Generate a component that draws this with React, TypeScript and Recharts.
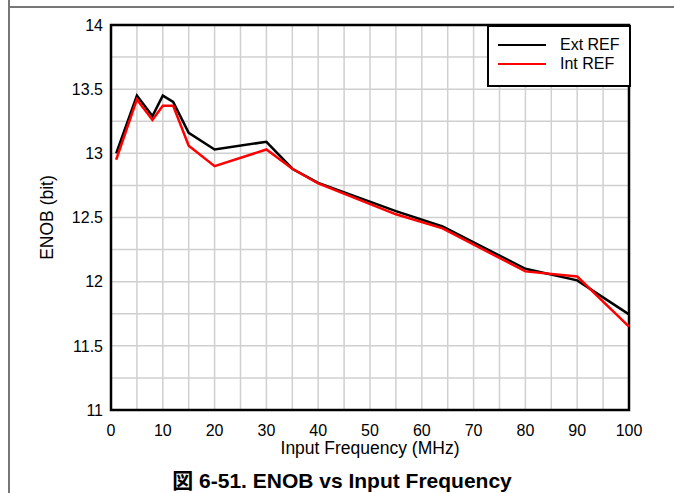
import { LineChart, Line, XAxis, YAxis, CartesianGrid, ReferenceArea } from "recharts"

const freqs = [1, 5, 8, 10, 12, 15, 20, 30, 35, 40, 55, 64, 80, 90, 100]
const extRef = [13.0, 13.45, 13.29, 13.45, 13.4, 13.16, 13.03, 13.09, 12.88, 12.77, 12.55, 12.43, 12.1, 12.01, 11.745]
const intRef = [12.95, 13.42, 13.26, 13.37, 13.37, 13.06, 12.9, 13.03, 12.88, 12.765, 12.525, 12.415, 12.08, 12.04, 11.65]
const xTicks = [0, 5, 10, 15, 20, 25, 30, 35, 40, 45, 50, 55, 60, 65, 70, 75, 80, 85, 90, 95, 100]
const yTicks = [11, 11.25, 11.5, 11.75, 12, 12.25, 12.5, 12.75, 13, 13.25, 13.5, 13.75, 14]

const data = freqs.map((f, i) => ({ f, ext: extRef[i], int: intRef[i] }))

const font = "'Liberation Sans', Arial, sans-serif"

export default function App() {
  return (
    <div style={{ position: "absolute", left: 0, top: 0, width: 674, height: 493, background: "#fff", fontFamily: font, overflow: "hidden" }}>
      {/* page frame bits */}
      <div style={{ position: "absolute", left: 8, top: 0, width: 2, height: 493, background: "#777" }} />
      <div style={{ position: "absolute", left: 8, top: 6, width: 666, height: 2, background: "#777" }} />
      <LineChart width={674} height={493} data={data} margin={{ top: 25, right: 45, bottom: 53, left: 40 }}>
        <CartesianGrid stroke="#d0d0d0" strokeWidth={1.5} />
        <XAxis
          dataKey="f"
          type="number"
          domain={[0, 100]}
          ticks={xTicks}
          interval={0}
          tickFormatter={(v) => (v % 10 === 0 ? String(v) : "")}
          tickLine={false}
          axisLine={false}
          height={30}
          tickMargin={9}
          tick={{ fill: "#000", fontSize: 16, fontFamily: font }}
          label={{ value: "Input Frequency (MHz)", position: "insideBottom", offset: -14, fill: "#000", fontSize: 17.5, fontFamily: font }}
        />
        <YAxis
          type="number"
          domain={[11, 14]}
          ticks={yTicks}
          interval={0}
          tickFormatter={(v) => (v * 2 === Math.round(v * 2) ? String(v) : "")}
          tickLine={false}
          axisLine={false}
          width={71}
          tick={{ fill: "#000", fontSize: 16, fontFamily: font }}
          label={{ value: "ENOB (bit)", angle: -90, position: "insideLeft", offset: 7, fill: "#000", fontSize: 17.5, fontFamily: font, style: { textAnchor: "middle" } }}
        />
        <ReferenceArea x1={0} x2={100} y1={11} y2={14} fill="none" stroke="#000" strokeWidth={2.5} ifOverflow="visible" />
        <Line type="linear" dataKey="ext" stroke="#000" strokeWidth={2.5} dot={false} isAnimationActive={false} />
        <Line type="linear" dataKey="int" stroke="#ff0000" strokeWidth={2.5} dot={false} isAnimationActive={false} />
      </LineChart>
      <div style={{ position: "absolute", left: 487, top: 25, width: 140, height: 58, border: "2px solid #000", background: "#fff", fontSize: 16 }}>
        <div style={{ position: "absolute", left: 9, top: 9, display: "flex", alignItems: "center" }}>
          <div style={{ width: 48, height: 2, background: "#000" }} />
          <span style={{ marginLeft: 14 }}>Ext REF</span>
        </div>
        <div style={{ position: "absolute", left: 9, top: 28, display: "flex", alignItems: "center" }}>
          <div style={{ width: 48, height: 2, background: "#ff0000" }} />
          <span style={{ marginLeft: 14 }}>Int REF</span>
        </div>
      </div>
      <div style={{ position: "absolute", left: 0, width: 684, top: 467, height: 24, lineHeight: "24px", textAlign: "center", fontWeight: "bold", fontSize: 21, whiteSpace: "nowrap" }}>
        <span style={{ fontFamily: "'Noto Sans CJK JP', sans-serif", lineHeight: "24px" }}>図</span> 6-51. ENOB vs Input Frequency
      </div>
    </div>
  )
}
